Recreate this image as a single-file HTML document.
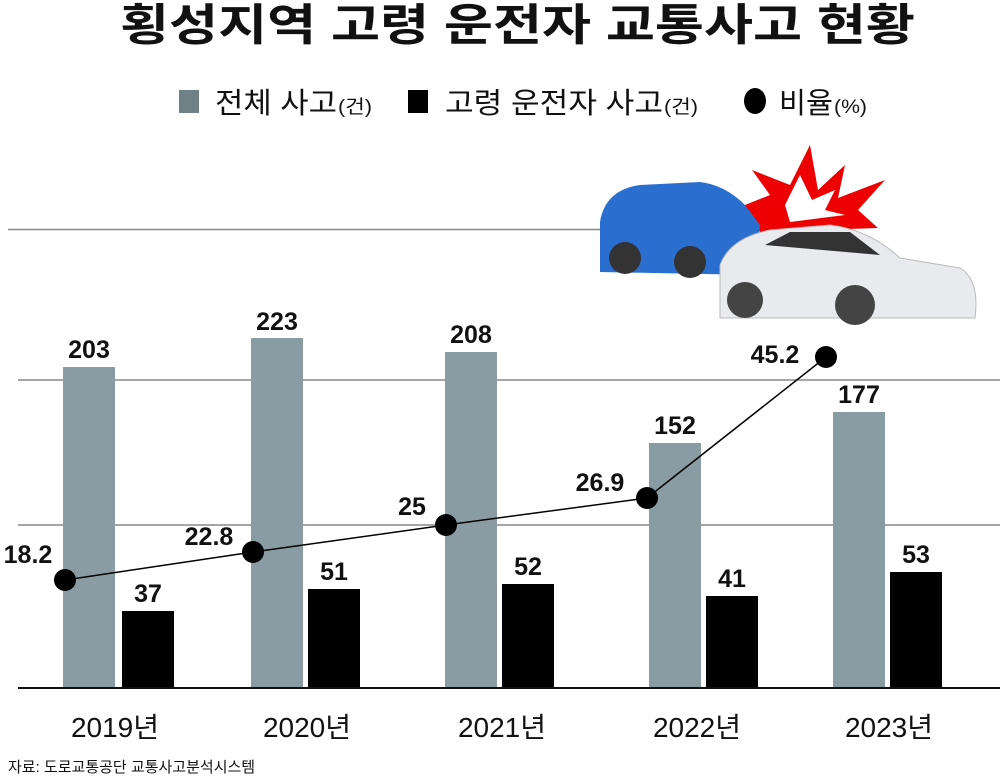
<!DOCTYPE html><html><head><meta charset="utf-8"><style>body{margin:0;background:#fff}svg{display:block}text{font-family:"Liberation Sans","Noto Sans CJK KR",sans-serif}</style></head><body>
<svg width="1000" height="778" viewBox="0 0 1000 778">
<text x="120" y="40" textLength="795" lengthAdjust="spacingAndGlyphs" font-size="44" font-weight="bold" fill="#111">횡성지역 고령 운전자 교통사고 현황</text>
<rect x="179" y="90" width="20" height="23" fill="#6f8086"/>
<text x="215" y="113" font-size="29" fill="#111" textLength="122" lengthAdjust="spacingAndGlyphs">전체 사고</text>
<text x="338" y="113" font-size="19" fill="#111" textLength="34" lengthAdjust="spacingAndGlyphs">(건)</text>
<rect x="408" y="90" width="20" height="23" fill="#000"/>
<text x="445" y="113" font-size="29" fill="#111" textLength="218" lengthAdjust="spacingAndGlyphs">고령 운전자 사고</text>
<text x="664" y="113" font-size="19" fill="#111" textLength="34" lengthAdjust="spacingAndGlyphs">(건)</text>
<ellipse cx="755" cy="101" rx="11" ry="13" fill="#000"/>
<text x="779" y="113" font-size="29" fill="#111" textLength="54" lengthAdjust="spacingAndGlyphs">비율</text>
<text x="834" y="113" font-size="19" fill="#111" textLength="33" lengthAdjust="spacingAndGlyphs">(%)</text>
<g stroke="#888" stroke-width="1.5"><line x1="8" y1="229.5" x2="620" y2="229.5"/><line x1="18" y1="380" x2="1000" y2="380"/><line x1="18" y1="525" x2="1000" y2="525"/></g>
<polygon points="810,145 818,190 845,165 838,198 885,180 858,210 878,228 760,232 745,205 770,195 752,170 790,185" fill="#e00"/>
<polygon points="800,175 812,200 835,190 825,210 845,215 790,222 785,205" fill="#fff"/>
<path d="M600,222 Q605,190 640,185 L700,182 Q725,185 745,205 L760,225 L755,275 L600,272 Z" fill="#2a6fd0"/>
<circle cx="625" cy="258" r="16" fill="#333"/><circle cx="690" cy="262" r="16" fill="#333"/>
<path d="M720,265 Q730,238 770,230 L830,225 Q870,230 900,258 L960,268 Q980,280 975,318 L720,318 Z" fill="#e8eaee" stroke="#bbb"/>
<path d="M765,245 L790,232 L850,232 L880,255 Z" fill="#333"/>
<circle cx="745" cy="300" r="18" fill="#444"/><circle cx="855" cy="305" r="20" fill="#444"/>
<g fill="#8a9ca3">
<rect x="63" y="367" width="52" height="321"/><rect x="251" y="338" width="52" height="350"/><rect x="445" y="352" width="52" height="336"/><rect x="649" y="443" width="52" height="245"/><rect x="833" y="412" width="52" height="276"/></g>
<g fill="#000">
<rect x="122" y="611" width="52" height="77"/><rect x="308" y="589" width="52" height="99"/><rect x="502" y="584" width="52" height="104"/><rect x="706" y="596" width="52" height="92"/><rect x="890" y="572" width="52" height="116"/></g>
<line x1="18" y1="688" x2="1000" y2="688" stroke="#111" stroke-width="2"/>
<polyline points="65,580 253,552 446,525 647,498 826,357" fill="none" stroke="#000" stroke-width="1.5"/>
<g fill="#000"><circle cx="65" cy="580" r="11"/><circle cx="253" cy="552" r="11"/><circle cx="446" cy="525" r="11"/><circle cx="647" cy="498" r="11"/><circle cx="826" cy="357" r="11"/></g>
<g font-size="25" font-weight="bold" fill="#111" text-anchor="middle">
<text x="89" y="358">203</text><text x="277" y="330">223</text><text x="471" y="343">208</text><text x="675" y="434">152</text><text x="859" y="403">177</text>
<text x="148" y="602">37</text><text x="334" y="580">51</text><text x="528" y="575">52</text><text x="732" y="587">41</text><text x="916" y="563">53</text>
<text x="28" y="563">18.2</text><text x="209" y="545">22.8</text><text x="412" y="515">25</text><text x="600" y="491">26.9</text><text x="775" y="363">45.2</text></g>
<g font-size="28" fill="#111" text-anchor="middle">
<text x="115" y="737">2019년</text><text x="307" y="737">2020년</text><text x="502" y="737">2021년</text><text x="697" y="737">2022년</text><text x="889" y="737">2023년</text></g>
<text x="8" y="772" font-size="15" fill="#111">자료: 도로교통공단 교통사고분석시스템</text>
</svg></body></html>
